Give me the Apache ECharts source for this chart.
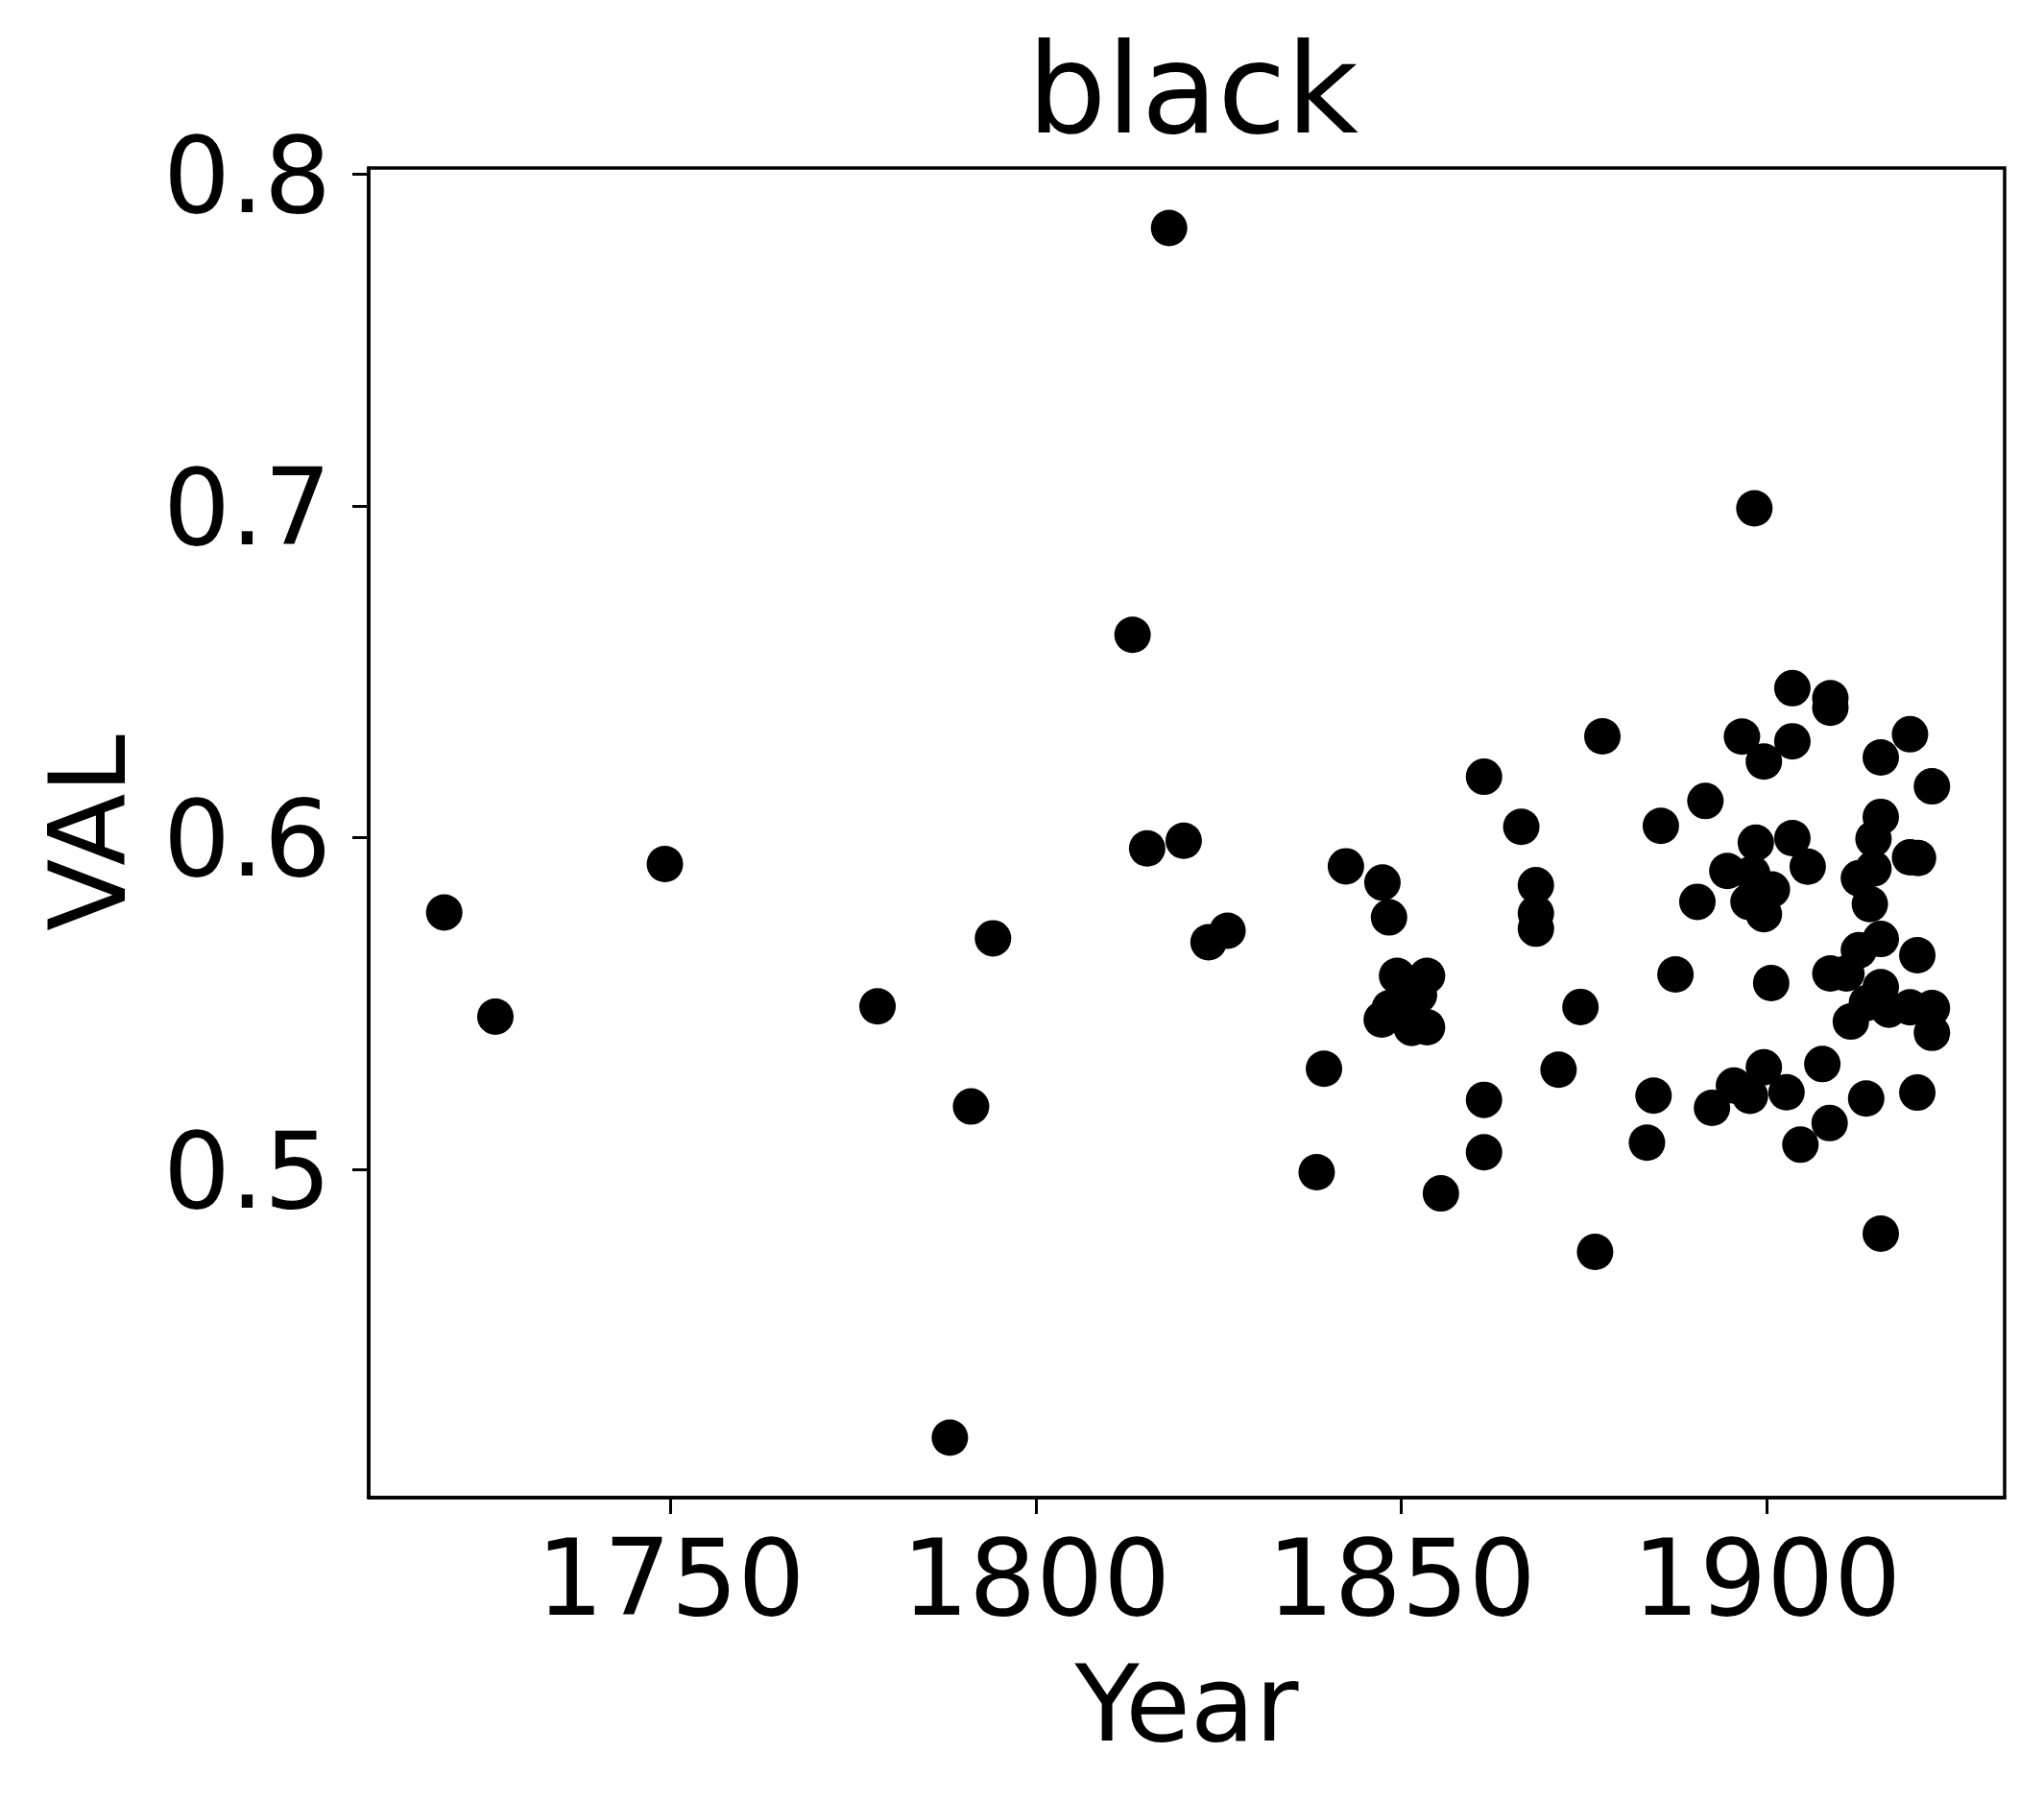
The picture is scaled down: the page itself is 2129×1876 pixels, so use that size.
<!DOCTYPE html>
<html>
<head>
<meta charset="utf-8">
<script src="https://cdn.jsdelivr.net/npm/echarts@6/dist/echarts.min.js"></script>
<style>
  html, body { margin: 0; padding: 0; background: #fff; }
  #chart { width: 2129px; height: 1876px; }
</style>
</head>
<body>
<div id="chart"></div>
<script>
// year of each point
var years = [
  1719.0, 1726.0, 1749.2, 1778.3, 1788.2, 1791.1, 1794.1, 1813.2, 1818.2, 1815.2,
  1820.2, 1823.6, 1826.2, 1838.4, 1839.4, 1842.4, 1847.4, 1848.3, 1847.3, 1848.4,
  1849.4, 1850.4, 1851.4, 1852.4, 1853.5, 1853.5, 1855.4, 1861.3, 1861.3, 1861.3,
  1866.4, 1868.4, 1868.4, 1868.4, 1871.5, 1874.5, 1876.5, 1877.5, 1883.6, 1884.5,
  1885.5, 1887.5, 1890.5, 1891.6, 1892.5, 1894.6, 1895.5, 1896.6, 1897.5, 1897.7,
  1898.0, 1898.3, 1898.5, 1899.6, 1899.6, 1899.6, 1900.6, 1900.7, 1902.7, 1903.5,
  1903.5, 1903.5, 1904.6, 1905.6, 1907.6, 1908.6, 1908.7, 1908.7, 1908.7, 1910.9,
  1911.5, 1912.6, 1912.6, 1913.6, 1913.7, 1914.1, 1914.6, 1914.6, 1915.6, 1915.6,
  1915.6, 1915.6, 1915.6, 1916.7, 1919.6, 1919.6, 1919.6, 1920.6, 1920.6, 1920.7,
  1922.6, 1922.6, 1922.6
];
// VAL of each point
var vals = [
  0.5775, 0.5461, 0.5921, 0.5492, 0.4192, 0.5190, 0.5697, 0.6612, 0.7838, 0.5968,
  0.5991, 0.5685, 0.5720, 0.4992, 0.5304, 0.5914, 0.5865, 0.5760, 0.5452, 0.5487,
  0.5584, 0.5497, 0.5427, 0.5526, 0.5584, 0.5429, 0.4928, 0.6184, 0.5210, 0.5052,
  0.6033, 0.5857, 0.5772, 0.5726, 0.5301, 0.5490, 0.4752, 0.6306, 0.5081, 0.5223,
  0.6036, 0.5588, 0.5807, 0.6111, 0.5186, 0.5900, 0.5253, 0.6305, 0.5807, 0.5222,
  0.5892, 0.6993, 0.5985, 0.6230, 0.5770, 0.5308, 0.5562, 0.5844, 0.5233, 0.6451,
  0.6291, 0.5999, 0.5075, 0.5913, 0.5318, 0.5140, 0.6421, 0.6392, 0.5591, 0.5591,
  0.5446, 0.5878, 0.5661, 0.5214, 0.5502, 0.5800, 0.5997, 0.5907, 0.6242, 0.6063,
  0.5695, 0.5550, 0.4807, 0.5482, 0.6312, 0.5941, 0.5489, 0.5646, 0.5232, 0.5939,
  0.6155, 0.5487, 0.5412
];
var xTicks = [1750, 1800, 1850, 1900];
var yTicks = [0.5, 0.6, 0.7, 0.8];

var points = years.map(function (y, i) { return [y, vals[i]]; });

var chart = echarts.init(document.getElementById("chart"));
var font = "DejaVu Sans";

var option = {
  animation: false,
  backgroundColor: "#fff",
  title: {
    text: "black",
    left: 1070,
    top: 39,
    padding: 0,
    textStyle: { fontFamily: font, fontSize: 130, fontWeight: "normal", color: "#000" }
  },
  grid: {
    left: 384,
    top: 175,
    width: 1704,
    height: 1385,
    show: true,
    borderColor: "#000",
    borderWidth: 3.5,
    containLabel: false
  },
  xAxis: {
    type: "value",
    min: 1708.66,
    max: 1932.55,
    name: "Year",
    nameLocation: "middle",
    nameGap: 169,
    nameTextStyle: { fontFamily: font, fontSize: 110, color: "#000" },
    splitLine: { show: false },
    axisLine: { show: true, lineStyle: { color: "#000", width: 3.5 } },
    axisTick: { show: true, length: 17, lineStyle: { color: "#000", width: 3 }, customValues: xTicks },
    axisLabel: {
      fontFamily: font, fontSize: 110, color: "#000", margin: 38,
      customValues: xTicks,
      formatter: function (v) { return String(v); }
    }
  },
  yAxis: {
    type: "value",
    min: 0.4011,
    max: 0.8019,
    name: "VAL",
    nameLocation: "middle",
    nameGap: 228,
    nameTextStyle: { fontFamily: font, fontSize: 110, color: "#000" },
    splitLine: { show: false },
    axisLine: { show: true, lineStyle: { color: "#000", width: 3.5 } },
    axisTick: { show: true, length: 17, lineStyle: { color: "#000", width: 3 }, customValues: yTicks },
    axisLabel: {
      fontFamily: font, fontSize: 110, color: "#000", margin: 39,
      customValues: yTicks,
      formatter: function (v) { return "{t|" + v.toFixed(1) + "}"; },
      rich: {
        t: { fontFamily: font, fontSize: 110, color: "#000", padding: [22, 0, 0, 0] }
      }
    }
  },
  series: [
    {
      type: "scatter",
      data: points,
      symbol: "circle",
      symbolSize: 38,
      itemStyle: { color: "#000", opacity: 1 }
    }
  ]
};

chart.setOption(option);
</script>
</body>
</html>
